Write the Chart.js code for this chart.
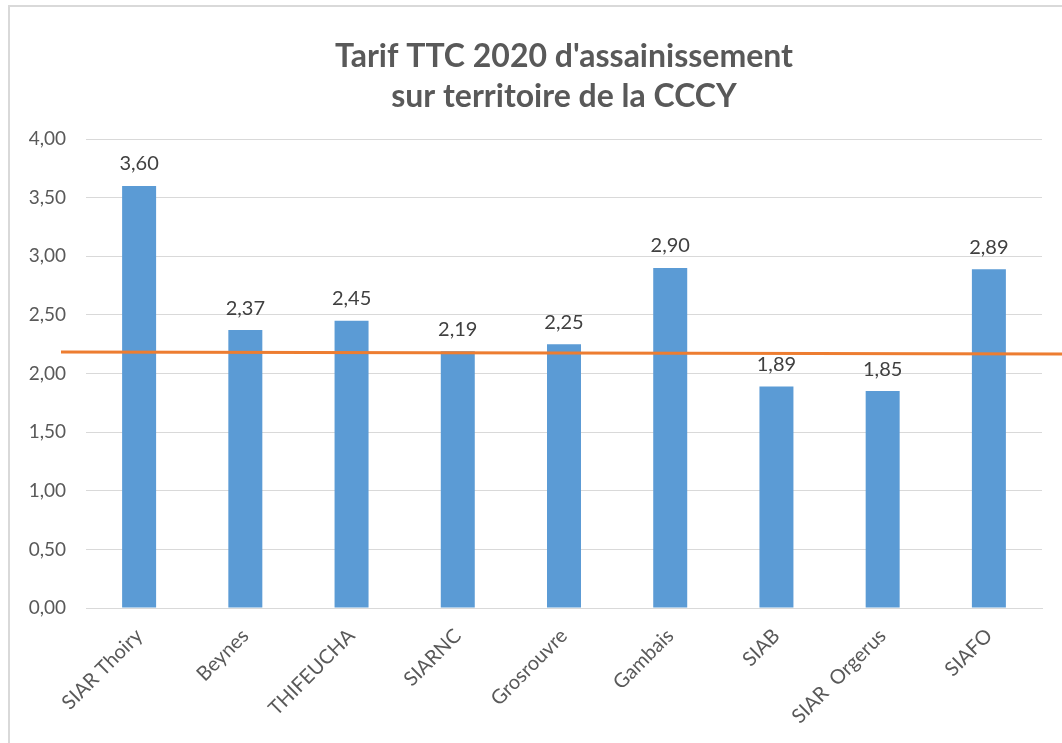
<!DOCTYPE html>
<html>
<head>
<meta charset="utf-8">
<script src="https://cdn.jsdelivr.net/npm/chart.js@4.4.0/dist/chart.umd.min.js"></script>
<style>
  html, body { margin: 0; padding: 0; background: #fff; overflow: hidden; }
  #wrap { position: relative; width: 1062px; height: 743px; }
  #frame { position: absolute; left: 8px; top: 5px; width: 1100px; height: 800px;
           border: 2px solid #d9d9d9; box-sizing: border-box; pointer-events: none; }
</style>
</head>
<body>
<div id="wrap">
  <canvas id="chart" width="1062" height="743"></canvas>
  <div id="frame"></div>
</div>
<script>
document.addEventListener('DOMContentLoaded', function () {
    const ctx = document.getElementById('chart').getContext('2d');

    // données
    const syndicats = ['SIAR Thoiry', 'Beynes', 'THIFEUCHA', 'SIARNC', 'Grosrouvre', 'Gambais', 'SIAB', 'SIAR  Orgerus', 'SIAFO'];
    const tarifs = [3.60, 2.37, 2.45, 2.19, 2.25, 2.90, 1.89, 1.85, 2.89];
    // trait orange tracé à la main (début, fin)
    const ligneRepere = [2.183, 2.166];
    const titre = ["Tarif TTC 2020 d'assainissement", 'sur territoire de la CCCY'];

    const fmt = v => v.toFixed(2).replace('.', ',');

    // titre centré sur la zone de tracé (comme dans Excel)
    const titrePlugin = {
        id: 'titre',
        afterDraw(chart) {
            const c = chart.ctx;
            const area = chart.chartArea;
            const cx = (area.left + area.right) / 2;
            c.save();
            c.font = 'bold 32px Lato';
            c.fillStyle = '#595959';
            c.textAlign = 'center';
            c.textBaseline = 'middle';
            titre.forEach((ligne, i) => {
                c.fillText(ligne, cx, 57 + i * 40);
            });
            c.restore();
        }
    };

    // étiquettes de valeur au-dessus des barres
    const valeursPlugin = {
        id: 'valeurs',
        afterDatasetsDraw(chart) {
            const c = chart.ctx;
            const meta = chart.getDatasetMeta(0);
            c.save();
            c.font = '20px Lato';
            c.fillStyle = '#404040';
            c.textAlign = 'center';
            c.textBaseline = 'bottom';
            meta.data.forEach((bar, i) => {
                c.fillText(fmt(tarifs[i]), bar.x, bar.y - 12);
            });
            c.restore();
        }
    };

    // trait orange
    const lignePlugin = {
        id: 'ligne',
        afterDraw(chart) {
            const c = chart.ctx;
            const y = chart.scales.y;
            const area = chart.chartArea;
            c.save();
            c.strokeStyle = '#ED7D31';
            c.lineWidth = 3;
            c.beginPath();
            c.moveTo(area.left - 25, y.getPixelForValue(ligneRepere[0]));
            c.lineTo(chart.width, y.getPixelForValue(ligneRepere[1]));
            c.stroke();
            c.restore();
        }
    };

    new Chart(ctx, {
        type: 'bar',
        data: {
            labels: syndicats,
            datasets: [{
                data: tarifs,
                backgroundColor: '#5B9BD5',
                categoryPercentage: 1,
                barPercentage: 0.32
            }]
        },
        options: {
            responsive: false,
            animation: false,
            layout: { padding: { left: 0, right: 20, top: 139, bottom: 0 } },
            plugins: {
                legend: { display: false },
                tooltip: { enabled: false },
                title: { display: false }
            },
            scales: {
                y: {
                    min: 0,
                    max: 4,
                    ticks: {
                        stepSize: 0.5,
                        padding: 20,
                        color: '#595959',
                        font: { family: 'Lato', size: 19 },
                        callback: v => fmt(v)
                    },
                    grid: { color: '#d9d9d9', drawTicks: false },
                    border: { display: false },
                    afterFit(scale) { scale.width = 86; }
                },
                x: {
                    ticks: {
                        maxRotation: 45,
                        minRotation: 45,
                        padding: 8,
                        color: '#595959',
                        font: { family: 'Lato', size: 20 }
                    },
                    grid: { display: false },
                    border: { color: '#d9d9d9', width: 1 },
                    afterFit(scale) { scale.height = 135; }
                }
            }
        },
        plugins: [titrePlugin, valeursPlugin, lignePlugin]
    });
});
</script>
</body>
</html>
